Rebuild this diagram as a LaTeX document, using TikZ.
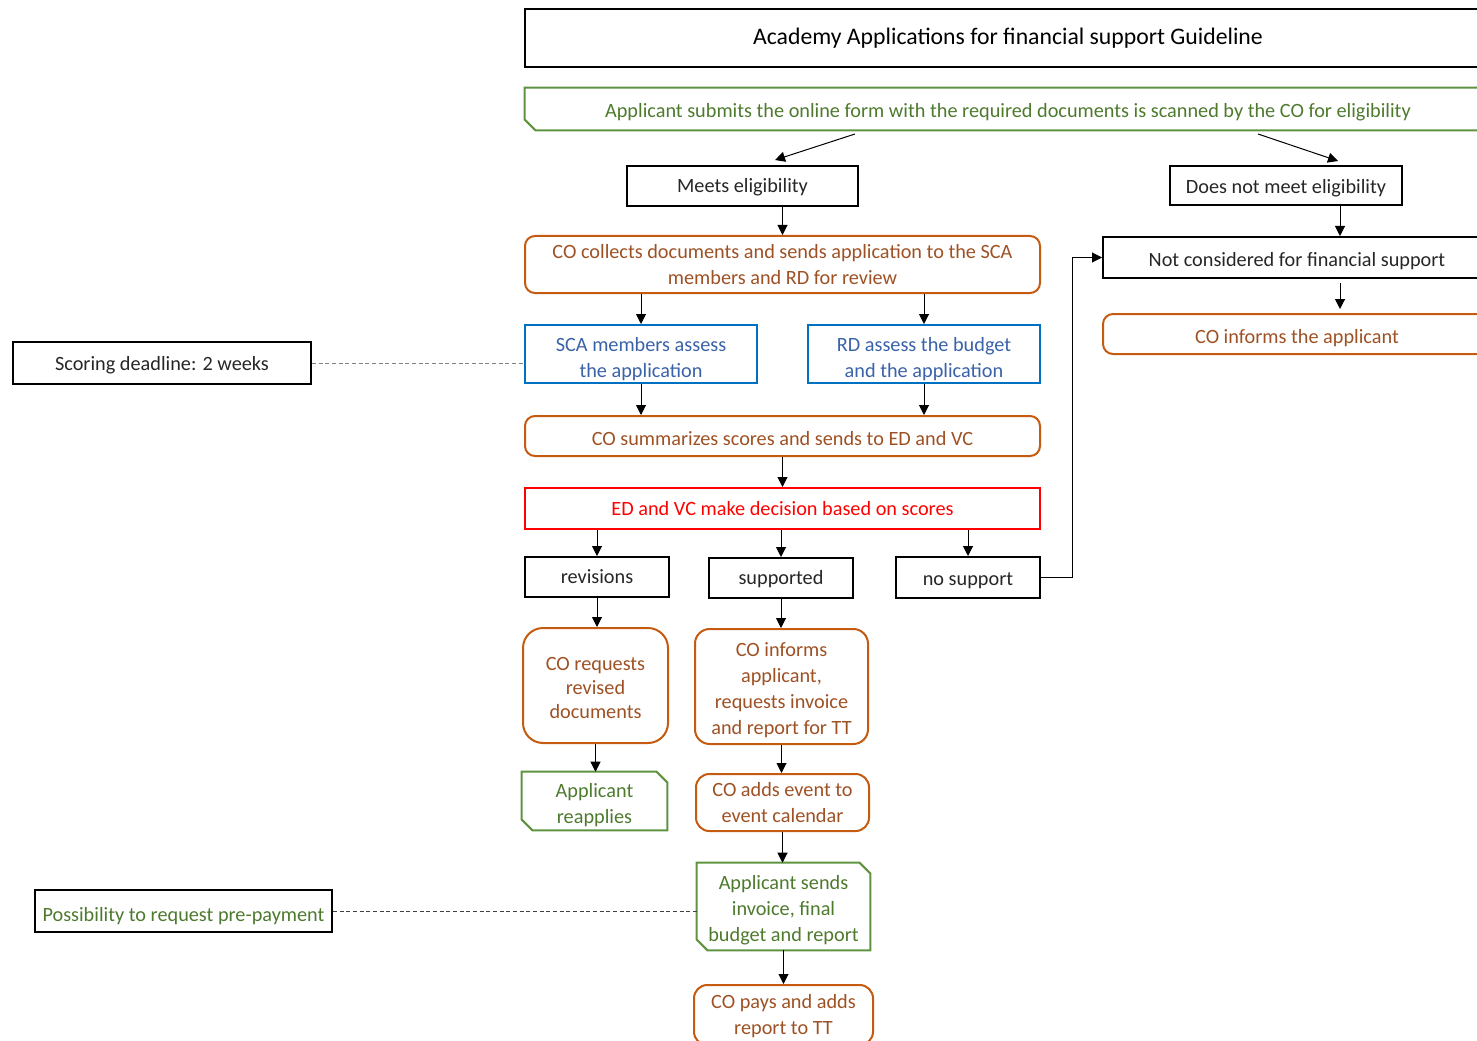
\documentclass[tikz,border=0pt]{standalone}
\usepackage{fontspec}
\setmainfont{Carlito}
\usetikzlibrary{arrows.meta}
\definecolor{oBorder}{HTML}{C55A11}
\definecolor{oText}{HTML}{9E5124}
\definecolor{gBorder}{HTML}{5F9340}
\definecolor{gText}{HTML}{4E7A2E}
\definecolor{bBorder}{HTML}{0070C0}
\definecolor{bText}{HTML}{3A62A8}
\definecolor{rCol}{HTML}{FF0000}
\definecolor{kText}{HTML}{262626}
\newcommand\chamf[1]{\draw[draw=gBorder, line width=1.5pt, line join=miter]
  (#1.north west) -- ([xshift=-8pt]#1.north east) -- ([yshift=-8pt]#1.north east)
  -- (#1.south east) -- ([xshift=8pt]#1.south west) -- ([yshift=8pt]#1.south west) -- cycle;}
\newcommand\tdn[1]{\rule{0pt}{\dimexpr 11.4pt+#1pt\relax}}
\begin{document}
\begin{tikzpicture}[x=0.75pt,y=-0.75pt,
  wh/.style 2 args={minimum width=#1, minimum height=#2},
  base/.style={inner sep=0pt, align=center, font=\fontsize{15.2}{19.5}\selectfont},
  blk/.style={base, draw=black, line width=1.5pt, text=kText},
  titlebox/.style={base, draw=black, line width=1.5pt, text=black, font=\fontsize{17.8}{21}\selectfont},
  obox/.style={base, draw=oBorder, line width=1.5pt, text=oText, rounded corners=#1},
  obox/.default=7.5pt,
  bbox/.style={base, draw=bBorder, line width=1.5pt, text=bText},
  rbox/.style={base, draw=rCol, line width=1.5pt, text=rCol},
  gbox/.style={base, text=gText},
  arr/.style={draw=black, line width=0.75pt, -{Triangle[width=7.5pt,length=7.5pt]}},
  dashlink/.style={line width=0.75pt, dash pattern=on 3pt off 2pt}
]
\useasboundingbox (0,0) rectangle (1477,1041);
\clip (0,0) rectangle (1477,1041);

\node[titlebox, wh={724.5pt}{43.5pt}] (title) at (1008,38) {Academy Applications for financial support Guideline};
\node[gbox, wh={724.5pt}{31.5pt}] (submit) at (1008,109) {\tdn{4.5}Applicant submits the online form with the required documents is scanned by the CO for eligibility};
\chamf{submit}

\node[blk, wh={173.25pt}{30pt}] (meets) at (742.5,186) {\tdn{1.5}Meets eligibility};
\node[blk, wh={174pt}{29.25pt}] (doesnot) at (1286,185.5) {\tdn{3}Does not meet eligibility};

\node[obox, wh={386.25pt}{42.75pt}] (collect) at (782.5,264.5) {CO collects documents and sends application to the SCA\\members and RD for review};

\node[blk, wh={291pt}{30.75pt}] (notcons) at (1297,257.5) {\tdn{4.5}Not considered for financial support};
\node[obox, wh={291pt}{30pt}] (inform) at (1297,334) {\tdn{6}CO informs the applicant};

\node[bbox, wh={174pt}{43.5pt}] (sca) at (641,354) {\tdn{7.5}SCA members assess\\the application};
\node[bbox, wh={174pt}{43.5pt}] (rd) at (924,354) {\tdn{7.5}RD assess the budget\\and the application};

\node[blk, wh={223.5pt}{31.5pt}] (score) at (162,363) {\tdn{3}Scoring deadline: 2 weeks};

\node[obox, wh={386.25pt}{30pt}] (summ) at (782.5,436) {\tdn{3}CO summarizes scores and sends to ED and VC};
\node[rbox, wh={386.25pt}{30.75pt}] (ed) at (782.5,508.5) {ED and VC make decision based on scores};

\node[blk, wh={108pt}{30pt}] (rev) at (597,577) {revisions};
\node[blk, wh={108pt}{30pt}] (sup) at (781,578) {\tdn{1.5}supported};
\node[blk, wh={108pt}{30.75pt}] (nosup) at (968,577.5) {\tdn{3}no support};

\node[obox=15pt, wh={108.75pt}{86.25pt}, font=\fontsize{15.2}{18}\selectfont] (req) at (595.5,685.5) {\tdn{1.5}CO requests\\revised\\documents};
\node[obox=11pt, wh={129.75pt}{86.25pt}] (infapp) at (781.5,686.5) {\tdn{4.5}CO informs\\applicant,\\requests invoice\\and report for TT};

\node[gbox, wh={108.75pt}{43.5pt}] (reapp) at (594.5,801) {\tdn{6}Applicant\\reapplies};
\chamf{reapp}
\node[obox=10pt, wh={129.75pt}{42.75pt}] (adds) at (782.5,802.5) {CO adds event to\\event calendar};
\node[gbox, wh={129.75pt}{65.25pt}] (sends) at (783.5,906.5) {\tdn{4.5}Applicant sends\\invoice, final\\budget and report};
\chamf{sends}
\node[obox=10pt, wh={134.25pt}{45pt}] (pays) at (783.5,1015) {\tdn{1.5}CO pays and adds\\report to TT};

\node[blk, wh={222.75pt}{31.5pt}, text=gText] (prepay) at (183.5,911) {\tdn{7.5}Possibility to request pre-payment};

% helper coordinates
\coordinate (s1) at (855,134);
\coordinate (e1) at (775,160);
\coordinate (s2) at (1258,134);
\coordinate (e2) at (1338,161);
\coordinate (xnc) at (1340,0);
\coordinate (xjog) at (1072,0);

% connectors
\draw[arr] (s1) -- (e1);
\draw[arr] (s2) -- (e2);
\draw[arr] (meets.south -| collect.north) -- (collect.north);
\draw[arr] (doesnot.south -| xnc) -- (notcons.north -| xnc);
\draw[arr] ([yshift=-3pt]notcons.south -| xnc) -- ([yshift=3pt]inform.north -| xnc);
\draw[arr] (collect.south -| sca.north) -- (sca.north);
\draw[arr] (collect.south -| rd.north) -- (rd.north);
\draw[arr] (sca.south) -- (sca.south |- summ.north);
\draw[arr] (rd.south) -- (rd.south |- summ.north);
\draw[arr] (summ.south) -- (ed.north);
\draw[arr] (ed.south -| rev.north) -- (rev.north);
\draw[arr] (ed.south -| sup.north) -- (sup.north);
\draw[arr] (ed.south -| nosup.north) -- (nosup.north);
\draw[arr] (nosup.east) -- (nosup.east -| xjog) |- (notcons.west);
\draw[arr] (rev.south) -- (rev.south |- req.north);
\draw[arr] (sup.south) -- (sup.south |- infapp.north);
\draw[arr] (req.south) -- (req.south |- reapp.north);
\draw[arr] (infapp.south) -- (infapp.south |- adds.north);
\draw[arr] (adds.south) -- (adds.south |- sends.north);
\draw[arr] (sends.south) -- (sends.south |- pays.north);

\draw[dashlink, draw=gray] (score.east) -- (score.east -| sca.west);
\draw[dashlink, draw=black!75] (prepay.east) -- (prepay.east -| sends.west);
\end{tikzpicture}
\end{document}
